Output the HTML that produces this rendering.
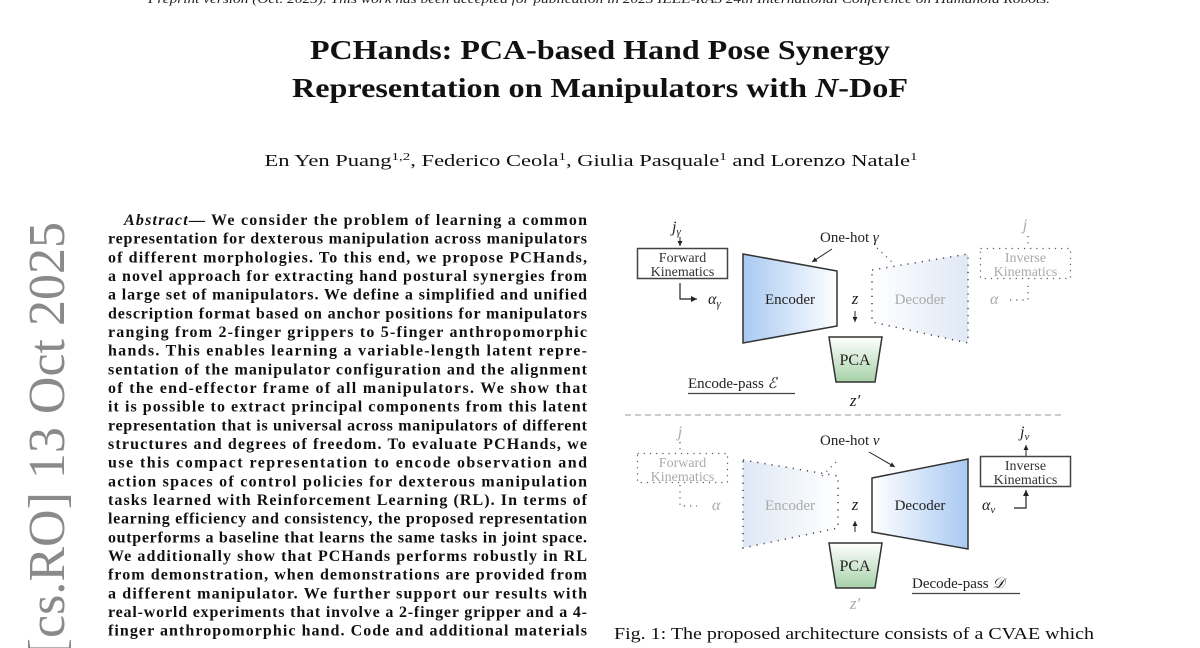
<!DOCTYPE html>
<html><head><meta charset="utf-8">
<style>
html,body{margin:0;padding:0;background:#fff;width:1200px;height:648px;overflow:hidden;}
svg{display:block;}
.ser{font-family:"Liberation Serif",serif;}
.ab{font-family:"Liberation Serif",serif;font-weight:bold;font-size:16px;fill:#111;}
</style></head><body>
<svg width="1200" height="648" viewBox="0 0 1200 648" xmlns="http://www.w3.org/2000/svg">
<defs>
<linearGradient id="encG" x1="0" x2="1" y1="0" y2="0"><stop offset="0" stop-color="#a9c9f2"/><stop offset="1" stop-color="#ffffff"/></linearGradient>
<linearGradient id="decG" x1="0" x2="1" y1="0" y2="0"><stop offset="0" stop-color="#ffffff"/><stop offset="1" stop-color="#a9c9f2"/></linearGradient>
<linearGradient id="encF" x1="0" x2="1" y1="0" y2="0"><stop offset="0" stop-color="#dfe8f5"/><stop offset="1" stop-color="#ffffff"/></linearGradient>
<linearGradient id="decF" x1="0" x2="1" y1="0" y2="0"><stop offset="0" stop-color="#ffffff"/><stop offset="1" stop-color="#dfe8f5"/></linearGradient>
<linearGradient id="pcaG" x1="0" x2="0" y1="0" y2="1"><stop offset="0" stop-color="#ffffff"/><stop offset="1" stop-color="#a6d1a8"/></linearGradient>
<marker id="ar" markerWidth="6" markerHeight="6" refX="5" refY="3" orient="auto"><path d="M0,0.5 L5,3 L0,5.5 z" fill="#222"/></marker>
</defs>

<text class="ser" x="148" y="3" font-size="13" font-style="italic" fill="#222" textLength="902" lengthAdjust="spacingAndGlyphs">Preprint version (Oct. 2025). This work has been accepted for publication in 2025 IEEE-RAS 24th International Conference on Humanoid Robots.</text>

<text class="ser" transform="translate(64,222) rotate(-90)" text-anchor="end" font-size="52" fill="#8a8a8a">arXiv:2510.00000v1  [cs.RO]  13 Oct 2025</text>

<text class="ser" x="600" y="59" text-anchor="middle" font-size="27" font-weight="bold" fill="#111" textLength="580" lengthAdjust="spacingAndGlyphs">PCHands: PCA-based Hand Pose Synergy</text>
<text class="ser" x="600" y="97" text-anchor="middle" font-size="27" font-weight="bold" fill="#111" textLength="616" lengthAdjust="spacingAndGlyphs">Representation on Manipulators with <tspan font-style="italic">N</tspan>-DoF</text>
<text class="ser" x="591" y="166" text-anchor="middle" font-size="16.5" fill="#111" textLength="653" lengthAdjust="spacingAndGlyphs">En Yen Puang<tspan font-size="11" dy="-6">1,2</tspan><tspan dy="6">, Federico Ceola</tspan><tspan font-size="11" dy="-6">1</tspan><tspan dy="6">, Giulia Pasquale</tspan><tspan font-size="11" dy="-6">1</tspan><tspan dy="6"> and Lorenzo Natale</tspan><tspan font-size="11" dy="-6">1</tspan></text>

<g class="ab">
<text x="124" y="225" textLength="463" lengthAdjust="spacing"><tspan font-style="italic">Abstract</tspan>— We consider the problem of learning a common</text>
<text x="108" y="243.7" textLength="479" lengthAdjust="spacing">representation for dexterous manipulation across manipulators</text>
<text x="108" y="262.3" textLength="479" lengthAdjust="spacing">of different morphologies. To this end, we propose PCHands,</text>
<text x="108" y="281" textLength="479" lengthAdjust="spacing">a novel approach for extracting hand postural synergies from</text>
<text x="108" y="299.7" textLength="479" lengthAdjust="spacing">a large set of manipulators. We define a simplified and unified</text>
<text x="108" y="318.3" textLength="479" lengthAdjust="spacing">description format based on anchor positions for manipulators</text>
<text x="108" y="337" textLength="479" lengthAdjust="spacing">ranging from 2-finger grippers to 5-finger anthropomorphic</text>
<text x="108" y="355.7" textLength="479" lengthAdjust="spacing">hands. This enables learning a variable-length latent repre-</text>
<text x="108" y="374.3" textLength="479" lengthAdjust="spacing">sentation of the manipulator configuration and the alignment</text>
<text x="108" y="393" textLength="479" lengthAdjust="spacing">of the end-effector frame of all manipulators. We show that</text>
<text x="108" y="411.7" textLength="479" lengthAdjust="spacing">it is possible to extract principal components from this latent</text>
<text x="108" y="430.3" textLength="479" lengthAdjust="spacing">representation that is universal across manipulators of different</text>
<text x="108" y="449" textLength="479" lengthAdjust="spacing">structures and degrees of freedom. To evaluate PCHands, we</text>
<text x="108" y="467.7" textLength="479" lengthAdjust="spacing">use this compact representation to encode observation and</text>
<text x="108" y="486.3" textLength="479" lengthAdjust="spacing">action spaces of control policies for dexterous manipulation</text>
<text x="108" y="505" textLength="479" lengthAdjust="spacing">tasks learned with Reinforcement Learning (RL). In terms of</text>
<text x="108" y="523.7" textLength="479" lengthAdjust="spacing">learning efficiency and consistency, the proposed representation</text>
<text x="108" y="542.3" textLength="479" lengthAdjust="spacing">outperforms a baseline that learns the same tasks in joint space.</text>
<text x="108" y="561" textLength="479" lengthAdjust="spacing">We additionally show that PCHands performs robustly in RL</text>
<text x="108" y="579.7" textLength="479" lengthAdjust="spacing">from demonstration, when demonstrations are provided from</text>
<text x="108" y="598.3" textLength="479" lengthAdjust="spacing">a different manipulator. We further support our results with</text>
<text x="108" y="617" textLength="479" lengthAdjust="spacing">real-world experiments that involve a 2-finger gripper and a 4-</text>
<text x="108" y="635.7" textLength="479" lengthAdjust="spacing">finger anthropomorphic hand. Code and additional materials</text>
</g>

<g class="ser" font-size="14">
<text x="672" y="232" font-style="italic" font-size="16" fill="#222">j<tspan font-size="11" dy="3">γ</tspan></text>
<line x1="680" y1="237" x2="680" y2="246" stroke="#222" stroke-width="1" marker-end="url(#ar)"/>
<rect x="637.5" y="248.5" width="90" height="30" fill="#fff" stroke="#444" stroke-width="1.5"/>
<text x="682.5" y="262" text-anchor="middle" fill="#333">Forward</text>
<text x="682.5" y="276" text-anchor="middle" fill="#333">Kinematics</text>
<polyline points="680,283 680,299 697,299" fill="none" stroke="#222" stroke-width="1.2" marker-end="url(#ar)"/>
<text x="708" y="304" font-style="italic" font-size="16" fill="#222">α<tspan font-size="11" dy="3">γ</tspan></text>

<polygon points="743,254 837,271 837,326 743,343" fill="url(#encG)" stroke="#333" stroke-width="1.5"/>
<text x="790" y="304" text-anchor="middle" font-size="15" fill="#222">Encoder</text>
<text x="820" y="242" font-size="15" fill="#222">One-hot <tspan font-style="italic">γ</tspan></text>
<line x1="832" y1="249" x2="812" y2="262" stroke="#222" stroke-width="1" marker-end="url(#ar)"/>

<text x="855" y="304" text-anchor="middle" font-style="italic" font-size="17" fill="#222">z</text>
<line x1="855" y1="311" x2="855" y2="322" stroke="#222" stroke-width="1" marker-end="url(#ar)"/>

<polygon points="872,270 968,254 968,343 872,322" fill="url(#decF)" stroke="#444" stroke-width="1.5" stroke-dasharray="1.2 6"/>
<text x="920" y="304" text-anchor="middle" font-size="15" fill="#aaa">Decoder</text>
<line x1="877" y1="248" x2="893" y2="263" stroke="#555" stroke-width="1.2" stroke-dasharray="1.2 5"/>
<rect x="980.5" y="248.5" width="90" height="30" fill="#fff" stroke="#555" stroke-width="1.2" stroke-dasharray="1.2 5"/>
<text x="1025.5" y="262" text-anchor="middle" fill="#aaa">Inverse</text>
<text x="1025.5" y="276" text-anchor="middle" fill="#aaa">Kinematics</text>
<text x="1025" y="230" text-anchor="middle" font-style="italic" font-size="16" fill="#aaa">j</text>
<line x1="1028" y1="236" x2="1028" y2="247" stroke="#555" stroke-width="1.2" stroke-dasharray="1.2 5"/>
<text x="990" y="304" font-style="italic" font-size="16" fill="#aaa">α</text>
<polyline points="1010,300 1028,300 1028,283" fill="none" stroke="#555" stroke-width="1.2" stroke-dasharray="1.2 5"/>

<polygon points="829,337 882,337 875,382 836,382" fill="url(#pcaG)" stroke="#333" stroke-width="1.5"/>
<text x="855" y="365" text-anchor="middle" font-size="16" fill="#222">PCA</text>
<text x="855" y="406" text-anchor="middle" font-style="italic" font-size="17" fill="#222">z′</text>
<text x="688" y="388" font-size="15" fill="#222">Encode-pass <tspan font-style="italic">ℰ</tspan></text>
<line x1="688" y1="393.5" x2="795" y2="393.5" stroke="#444" stroke-width="1.2"/>

<line x1="625" y1="415" x2="1063" y2="415" stroke="#999" stroke-width="1" stroke-dasharray="6 4"/>

<text x="680" y="437" text-anchor="middle" font-style="italic" font-size="16" fill="#aaa">j</text>
<rect x="637.5" y="453.5" width="90" height="29" fill="#fff" stroke="#555" stroke-width="1.2" stroke-dasharray="1.2 5"/>
<text x="682.5" y="467" text-anchor="middle" fill="#aaa">Forward</text>
<text x="682.5" y="481" text-anchor="middle" fill="#aaa">Kinematics</text>
<polyline points="680,442 680,452" fill="none" stroke="#555" stroke-width="1.2" stroke-dasharray="1.2 5"/>
<polyline points="680,485 680,506 697,506" fill="none" stroke="#555" stroke-width="1.2" stroke-dasharray="1.2 5"/>
<text x="712" y="510" font-style="italic" font-size="16" fill="#aaa">α</text>

<polygon points="743,460 838,476 838,528 743,548" fill="url(#encF)" stroke="#444" stroke-width="1.5" stroke-dasharray="1.2 6"/>
<text x="790" y="510" text-anchor="middle" font-size="15" fill="#aaa">Encoder</text>
<line x1="836" y1="462" x2="820" y2="478" stroke="#555" stroke-width="1.2" stroke-dasharray="1.2 5"/>

<text x="855" y="510" text-anchor="middle" font-style="italic" font-size="17" fill="#222">z</text>
<line x1="855" y1="532" x2="855" y2="521" stroke="#222" stroke-width="1" marker-end="url(#ar)"/>

<text x="820" y="445" font-size="15" fill="#222">One-hot <tspan font-style="italic">ν</tspan></text>
<line x1="869" y1="452" x2="895" y2="467" stroke="#222" stroke-width="1" marker-end="url(#ar)"/>
<polygon points="872,478 968,459 968,549 872,532" fill="url(#decG)" stroke="#333" stroke-width="1.5"/>
<text x="920" y="510" text-anchor="middle" font-size="15" fill="#222">Decoder</text>

<text x="1020" y="437" font-style="italic" font-size="16" fill="#222">j<tspan font-size="11" dy="3">ν</tspan></text>
<line x1="1026" y1="456" x2="1026" y2="445" stroke="#222" stroke-width="1" marker-end="url(#ar)"/>
<rect x="980.5" y="456.5" width="90" height="30" fill="#fff" stroke="#444" stroke-width="1.5"/>
<text x="1025.5" y="470" text-anchor="middle" fill="#333">Inverse</text>
<text x="1025.5" y="484" text-anchor="middle" fill="#333">Kinematics</text>
<text x="982" y="510" font-style="italic" font-size="16" fill="#222">α<tspan font-size="11" dy="3">ν</tspan></text>
<polyline points="1014,508 1026,508 1026,490" fill="none" stroke="#222" stroke-width="1.2" marker-end="url(#ar)"/>

<polygon points="829,543 882,543 875,588 836,588" fill="url(#pcaG)" stroke="#333" stroke-width="1.5"/>
<text x="855" y="571" text-anchor="middle" font-size="16" fill="#222">PCA</text>
<text x="855" y="609" text-anchor="middle" font-style="italic" font-size="17" fill="#aaa">z′</text>
<text x="912" y="588" font-size="15" fill="#222">Decode-pass <tspan font-style="italic">𝒟</tspan></text>
<line x1="912" y1="593.5" x2="1020" y2="593.5" stroke="#444" stroke-width="1.2"/>
</g>

<text class="ser" x="614" y="639" font-size="16.5" fill="#111" textLength="480" lengthAdjust="spacingAndGlyphs">Fig. 1: The proposed architecture consists of a CVAE which</text>
</svg>
</body></html>
